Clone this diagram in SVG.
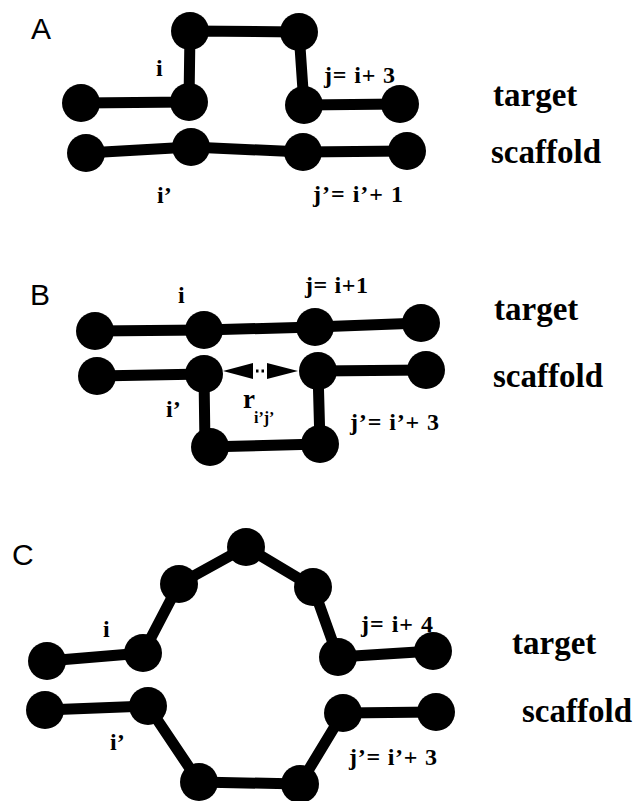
<svg xmlns="http://www.w3.org/2000/svg" width="638" height="801" viewBox="0 0 638 801">
<style>
.bb{fill:#000}
.ln{fill:none;stroke:#000;stroke-width:11;stroke-linejoin:round;stroke-linecap:round}
.pl{font-family:"Liberation Sans",Arial,sans-serif;font-size:30px;fill:#000}
.lb{font-family:"Liberation Serif","Times New Roman",serif;font-weight:bold;font-size:24px;fill:#000}
.nm{font-family:"Liberation Serif","Times New Roman",serif;font-weight:bold;font-size:33px;fill:#000}
</style>
<rect width="638" height="801" fill="#fff"/>
<g id="connectors">
<polyline class="ln" points="81,103 189,102 190,31 299,32 304,105 400,104"/>
<polyline class="ln" points="86,153 191,147 303,152 407,151"/>
<polyline class="ln" points="95,331 204,330 315,327 421,323"/>
<polyline class="ln" points="97,376 204,374 205,447 320,444 318,371 426,370"/>
<polygon class="bb" points="223,371 253,363 253,379"/>
<polygon class="bb" points="298,371 267,363 267,379"/>
<line x1="256" y1="371" x2="266" y2="371" stroke="#000" stroke-width="3" stroke-dasharray="2.5 3"/>
<polyline class="ln" points="47,661 143,653 179,584 246,547 313,587 338,657 433,651"/>
<polyline class="ln" points="45,710 148,706 199,782 300,784 343,713 436,712"/>
</g>
<g id="panelA">
<text class="pl" x="31" y="39">A</text>
<g id="A_t1"><circle class="bb" cx="81" cy="103" r="19"/></g>
<g id="A_t2"><circle class="bb" cx="189" cy="102" r="19"/></g>
<g id="A_t3"><circle class="bb" cx="190" cy="31" r="19"/></g>
<g id="A_t4"><circle class="bb" cx="299" cy="32" r="19"/></g>
<g id="A_t5"><circle class="bb" cx="304" cy="105" r="19"/></g>
<g id="A_t6"><circle class="bb" cx="400" cy="104" r="19"/></g>
<g id="A_s1"><circle class="bb" cx="86" cy="153" r="19"/></g>
<g id="A_s2"><circle class="bb" cx="191" cy="147" r="19"/></g>
<g id="A_s3"><circle class="bb" cx="303" cy="152" r="19"/></g>
<g id="A_s4"><circle class="bb" cx="407" cy="151" r="19"/></g>
<text class="lb" x="156" y="76">i</text>
<text class="lb" x="324" y="83" textLength="71" lengthAdjust="spacing">j= i+ 3</text>
<text class="lb" x="157" y="203">i’</text>
<text class="lb" x="313" y="202" textLength="90" lengthAdjust="spacing">j’= i’+ 1</text>
<text class="nm" x="493" y="106">target</text>
<text class="nm" x="491" y="163">scaffold</text>
</g>
<g id="panelB">
<text class="pl" x="30" y="305">B</text>
<g id="B_t1"><circle class="bb" cx="95" cy="331" r="19"/></g>
<g id="B_t2"><circle class="bb" cx="204" cy="330" r="19"/></g>
<g id="B_t3"><circle class="bb" cx="315" cy="327" r="19"/></g>
<g id="B_t4"><circle class="bb" cx="421" cy="323" r="19"/></g>
<g id="B_s1"><circle class="bb" cx="97" cy="376" r="19"/></g>
<g id="B_s2"><circle class="bb" cx="204" cy="374" r="19"/></g>
<g id="B_s3"><circle class="bb" cx="210" cy="447" r="19"/></g>
<g id="B_s4"><circle class="bb" cx="320" cy="444" r="19"/></g>
<g id="B_s5"><circle class="bb" cx="318" cy="371" r="19"/></g>
<g id="B_s6"><circle class="bb" cx="426" cy="370" r="19"/></g>
<text class="lb" x="178" y="303">i</text>
<text class="lb" x="305" y="293" textLength="63" lengthAdjust="spacing">j= i+1</text>
<text class="lb" x="166" y="417">i’</text>
<text class="lb" x="243" y="408" style="font-size:27px">r</text>
<text class="lb" x="254" y="423" style="font-size:16px">i’j’</text>
<text class="lb" x="350" y="430" textLength="89" lengthAdjust="spacing">j’= i’+ 3</text>
<text class="nm" x="494" y="320">target</text>
<text class="nm" x="493" y="387">scaffold</text>
</g>
<g id="panelC">
<text class="pl" x="12" y="565">C</text>
<g id="C_t1"><circle class="bb" cx="47" cy="661" r="19"/></g>
<g id="C_t2"><circle class="bb" cx="143" cy="653" r="19"/></g>
<g id="C_t3"><circle class="bb" cx="179" cy="584" r="19"/></g>
<g id="C_t4"><circle class="bb" cx="246" cy="547" r="19"/></g>
<g id="C_t5"><circle class="bb" cx="313" cy="587" r="19"/></g>
<g id="C_t6"><circle class="bb" cx="338" cy="657" r="19"/></g>
<g id="C_t7"><circle class="bb" cx="433" cy="651" r="19"/></g>
<g id="C_s1"><circle class="bb" cx="45" cy="710" r="19"/></g>
<g id="C_s2"><circle class="bb" cx="148" cy="706" r="19"/></g>
<g id="C_s3"><circle class="bb" cx="199" cy="782" r="19"/></g>
<g id="C_s4"><circle class="bb" cx="300" cy="784" r="19"/></g>
<g id="C_s5"><circle class="bb" cx="343" cy="713" r="19"/></g>
<g id="C_s6"><circle class="bb" cx="436" cy="712" r="19"/></g>
<text class="lb" x="103" y="637">i</text>
<text class="lb" x="361" y="632" textLength="72" lengthAdjust="spacing">j= i+ 4</text>
<text class="lb" x="110" y="750">i’</text>
<text class="lb" x="349" y="765" textLength="88" lengthAdjust="spacing">j’= i’+ 3</text>
<text class="nm" x="512" y="654">target</text>
<text class="nm" x="522" y="722">scaffold</text>
</g>
</svg>
